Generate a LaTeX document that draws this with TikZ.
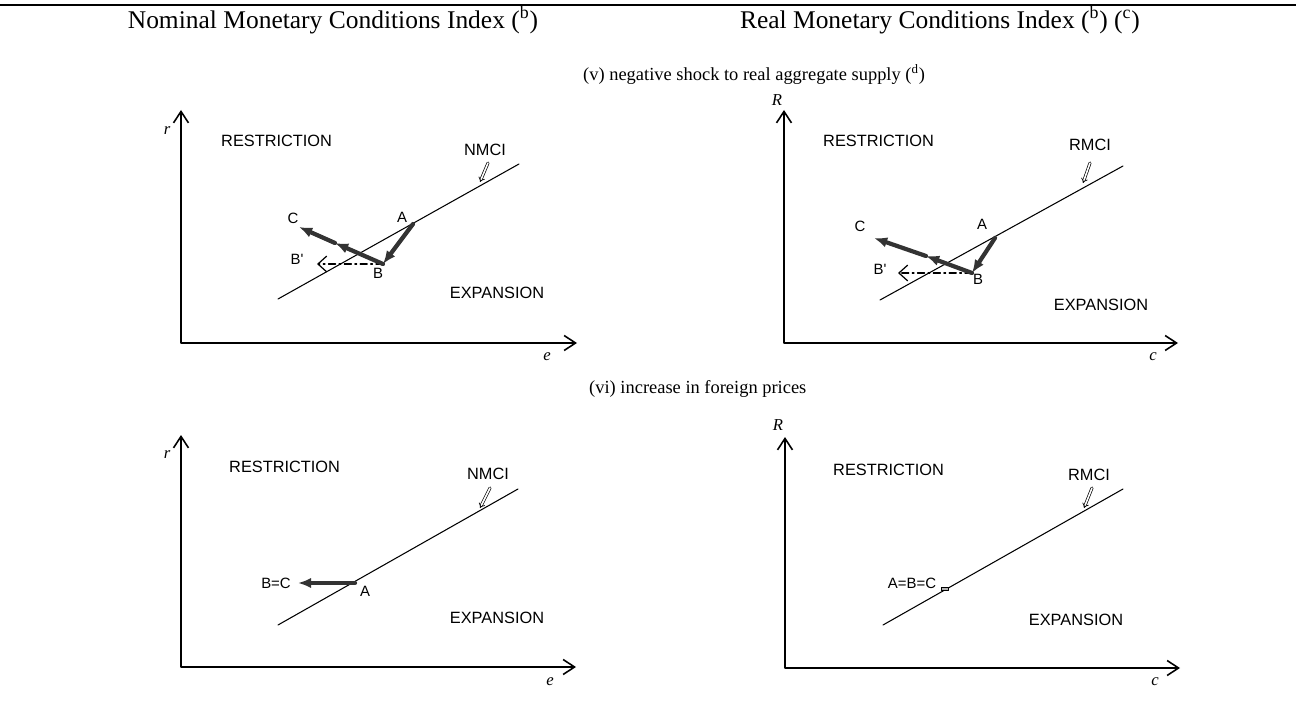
\documentclass[tikz,border=0pt]{standalone}
\usepackage{fontspec}
\setmainfont{Liberation Serif}
\setsansfont{Liberation Sans}
\usetikzlibrary{arrows.meta}

\begin{document}
\begin{tikzpicture}[x=0.02cm, y=-0.02cm, line cap=round, line join=round,
	axis/.style={line width=0.9pt, {Straight Barb[length=6.5pt,width=8.5pt]}-{Straight Barb[length=6.5pt,width=8.5pt]}},
	mci/.style={line width=0.6pt},
	shiftarrow/.style={line width=2.4pt, gray!40!black, -{Latex[length=7.5pt,width=6pt]}},
	proxy/.style={line width=0.7pt, dash pattern=on 4pt off 2pt on 1pt off 2pt, -{Straight Barb[length=5pt,width=9pt]}},
	pointer/.style={double, double distance=0.9pt, line width=0.4pt, -{Implies}},
	region/.style={font=\sffamily\fontsize{9.3}{11}\selectfont},
	ptlabel/.style={font=\sffamily\fontsize{8.5}{10}\selectfont, inner sep=1pt},
	var/.style={font=\itshape\fontsize{9.5}{10}\selectfont, inner sep=0pt},
	headtext/.style={font=\fontsize{14.5}{17}\selectfont},
	case/.style={font=\fontsize{10.5}{12}\selectfont},
	spot/.style={draw, fill=gray!60, inner sep=0pt, minimum width=4pt, minimum height=2.2pt, line width=0.5pt}]
		\useasboundingbox (0,0) rectangle (1296,706);
		% rule and headings
		\draw [line width=1.5pt] (0,5) -- (1296,5);
		\node [headtext] (hnom) at (333,20) {Nominal Monetary Conditions Index (\textsuperscript{b})};
		\node [headtext] (hreal) at (940,20) {Real Monetary Conditions Index (\textsuperscript{b}) (\textsuperscript{c})};
		\node [case, anchor=west] (casev) at (577,75) {(v) negative shock to real aggregate supply (\textsuperscript{d})};
		\node [case, anchor=west] (casevi) at (583,389) {(vi) increase in foreign prices};

		% (v) nominal
		\coordinate (o1) at (181,343);
		\coordinate (y1) at (181,110);
		\coordinate (x1) at (577,343);
		\draw [axis] (y1) -- (o1) -- (x1);
		\node [var] (r1) at (167,131) {r};
		\node [var] (e1) at (547,357) {e};
		\node [region, anchor=west] (res1) at (215,141) {RESTRICTION};
		\node [region] (exp1) at (497,293) {EXPANSION};
		\node [region] (mci1) at (485,150) {NMCI};
		\coordinate (l1a) at (278,299);
		\coordinate (l1b) at (519,164);
		\draw [mci] (l1a) -- (l1b);
		\coordinate (p1a) at (488,163);
		\coordinate (p1b) at (480,182);
		\draw [pointer] (p1a) -- (p1b);
		\coordinate (A1) at (413,224);
		\coordinate (B1) at (383,264);
		\coordinate (M1) at (335,243);
		\coordinate (C1) at (299,227);
		\coordinate (Bp1) at (317,264);
		\draw [proxy] (B1) -- (Bp1);
		\draw [shiftarrow] (A1) -- (B1);
		\draw [shiftarrow] (B1) -- (M1);
		\draw [shiftarrow] (M1) -- (C1);
		\node [ptlabel] (a1) at (402,217) {A};
		\node [ptlabel] (b1) at (378,273) {B};
		\node [ptlabel] (c1) at (293,218) {C};
		\node [ptlabel] (bp1) at (297,259) {B\textquotesingle};

		% (v) real
		\coordinate (o2) at (784,343);
		\coordinate (y2) at (784,110);
		\coordinate (x2) at (1178,343);
		\draw [axis] (y2) -- (o2) -- (x2);
		\node [var] (r2) at (777,100) {R};
		\node [var] (e2) at (1153,357) {c};
		\node [region, anchor=west] (res2) at (817,141) {RESTRICTION};
		\node [region] (exp2) at (1101,305) {EXPANSION};
		\node [region] (mci2) at (1090,145) {RMCI};
		\coordinate (l2a) at (880,300);
		\coordinate (l2b) at (1123,166);
		\draw [mci] (l2a) -- (l2b);
		\coordinate (p2a) at (1090,163);
		\coordinate (p2b) at (1083,183);
		\draw [pointer] (p2a) -- (p2b);
		\coordinate (A2) at (995,238);
		\coordinate (B2) at (972,273);
		\coordinate (M2) at (926,256);
		\coordinate (C2) at (874,238);
		\coordinate (Bp2) at (898,273);
		\draw [proxy] (B2) -- (Bp2);
		\draw [shiftarrow] (A2) -- (B2);
		\draw [shiftarrow] (B2) -- (M2);
		\draw [shiftarrow] (M2) -- (C2);
		\node [ptlabel] (a2) at (982,224) {A};
		\node [ptlabel] (b2) at (978,279) {B};
		\node [ptlabel] (c2) at (860,226) {C};
		\node [ptlabel] (bp2) at (880,269) {B\textquotesingle};

		% (vi) nominal
		\coordinate (o3) at (181,667);
		\coordinate (y3) at (181,435);
		\coordinate (x3) at (576,667);
		\draw [axis] (y3) -- (o3) -- (x3);
		\node [var] (r3) at (167,455) {r};
		\node [var] (e3) at (550,682) {e};
		\node [region, anchor=west] (res3) at (223,467) {RESTRICTION};
		\node [region] (exp3) at (497,618) {EXPANSION};
		\node [region] (mci3) at (488,474) {NMCI};
		\coordinate (l3a) at (278,625);
		\coordinate (l3b) at (518,489);
		\draw [mci] (l3a) -- (l3b);
		\coordinate (p3a) at (490,488);
		\coordinate (p3b) at (480,508);
		\draw [pointer] (p3a) -- (p3b);
		\coordinate (A3) at (355,583);
		\coordinate (C3) at (298,583);
		\draw [shiftarrow] (A3) -- (C3);
		\node [ptlabel] (a3) at (365,591) {A};
		\node [ptlabel] (bc3) at (276,583) {B=C};

		% (vi) real
		\coordinate (o4) at (785,668);
		\coordinate (y4) at (785,437);
		\coordinate (x4) at (1180,668);
		\draw [axis] (y4) -- (o4) -- (x4);
		\node [var] (r4) at (778,425) {R};
		\node [var] (e4) at (1155,682) {c};
		\node [region, anchor=west] (res4) at (827,470) {RESTRICTION};
		\node [region] (exp4) at (1076,620) {EXPANSION};
		\node [region] (mci4) at (1089,475) {RMCI};
		\coordinate (l4a) at (883,625);
		\coordinate (l4b) at (1123,489);
		\draw [mci] (l4a) -- (l4b);
		\coordinate (p4a) at (1092,488);
		\coordinate (p4b) at (1084,508);
		\draw [pointer] (p4a) -- (p4b);
		\node [spot] (abc4) at (945,589) {};
		\node [ptlabel] (abc4l) at (912,583) {A=B=C};
\end{tikzpicture}
\end{document}
